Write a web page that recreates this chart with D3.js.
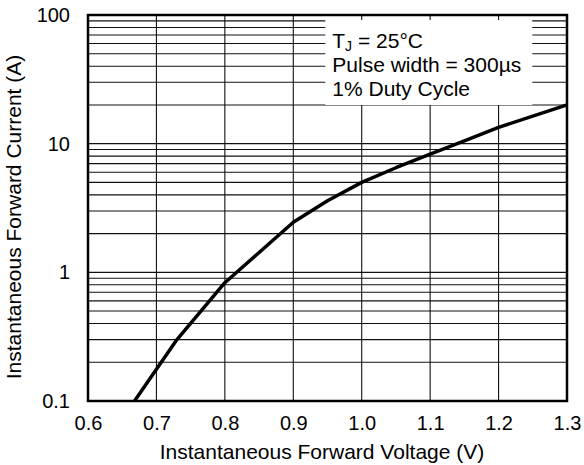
<!DOCTYPE html>
<html>
<head>
<meta charset="utf-8">
<script src="https://cdn.jsdelivr.net/npm/d3@7"></script>
<style>
  body { margin: 0; background: #fff; }
  text { font-family: "Liberation Sans", Arial, sans-serif; fill: #000; }
</style>
</head>
<body>
<div id="chart"></div>
<script>
// Forward voltage (V) vs forward current (A)
var voltage = [0.668, 0.73, 0.80, 0.90, 0.95, 1.00, 1.05, 1.10, 1.15, 1.20, 1.30];
var current = [0.10, 0.30, 0.83, 2.45, 3.6, 5.0, 6.5, 8.3, 10.5, 13.4, 20.0];

var xTicks = [0.6, 0.7, 0.8, 0.9, 1.0, 1.1, 1.2, 1.3];
var xTickLabels = ["0.6", "0.7", "0.8", "0.9", "1.0", "1.1", "1.2", "1.3"];
var yTicks = [0.1, 1, 10, 100];
var yTickLabels = ["0.1", "1", "10", "100"];
var legendLines = ["T_J = 25\u00B0C", "Pulse width = 300\u00B5s", "1% Duty Cycle"];

var margin = { top: 15, right: 17, bottom: 64, left: 88 };
var totalW = 584, totalH = 465;
var width = totalW - margin.left - margin.right;
var height = totalH - margin.top - margin.bottom;
var fs = "20px", fsBig = "21px";

var svg = d3.select("#chart").append("svg")
    .attr("width", totalW)
    .attr("height", totalH)
    .append("g")
    .attr("transform", "translate(" + margin.left + "," + margin.top + ")");

var x = d3.scaleLinear().domain([0.6, 1.3]).range([0, width]);
var y = d3.scaleLog().domain([0.1, 100]).range([height, 0]);

// grid lines: minor decades
var yGrid = [];
[0.1, 1, 10].forEach(function(d){
    for (var i = 1; i < 10; i++) yGrid.push(d * i);
});
yGrid.push(100);

svg.append("g").selectAll("line.h")
    .data(yGrid)
    .enter().append("line")
    .attr("x1", 0).attr("x2", width)
    .attr("y1", function(d){ return y(d); })
    .attr("y2", function(d){ return y(d); })
    .attr("stroke", "#111")
    .attr("stroke-width", 1.1);

svg.append("g").selectAll("line.v")
    .data(xTicks.slice(1, -1))
    .enter().append("line")
    .attr("y1", 0).attr("y2", height)
    .attr("x1", function(d){ return x(d); })
    .attr("x2", function(d){ return x(d); })
    .attr("stroke", "#111")
    .attr("stroke-width", 1.1);

// legend box covers grid
var lg = svg.append("g").attr("transform", "translate(" + (x(0.9) + 32) + ",5)");
lg.append("rect")
    .attr("x", 0).attr("y", 0)
    .attr("width", 207).attr("height", 85)
    .attr("fill", "#fff");

legendLines.forEach(function(s, i){
    var t = lg.append("text")
        .attr("x", 7)
        .attr("y", 28 + i * 24)
        .style("font-size", fsBig);
    if (s.indexOf("T_J") === 0) {
        t.append("tspan").text("T");
        t.append("tspan").attr("dy", 3).style("font-size", "14px").text("J");
        t.append("tspan").attr("dy", -3).text(s.slice(3));
    } else {
        t.text(s);
    }
});

// curve
var pts = voltage.map(function(v, i){ return [v, current[i]]; });
var line = d3.line()
    .x(function(d){ return x(d[0]); })
    .y(function(d){ return y(d[1]); });

svg.append("path")
    .datum(pts)
    .attr("d", line)
    .attr("fill", "none")
    .attr("stroke", "#000")
    .attr("stroke-width", 3.5)
    .attr("stroke-linejoin", "round");

// frame
svg.append("rect")
    .attr("x", 0).attr("y", 0)
    .attr("width", width).attr("height", height)
    .attr("fill", "none")
    .attr("stroke", "#000")
    .attr("stroke-width", 2.5);

// axes
var xAxis = d3.axisBottom(x).tickValues(xTicks).tickSize(0).tickPadding(15)
    .tickFormat(function(d, i){ return xTickLabels[i]; });
var xg = svg.append("g").attr("transform", "translate(0," + height + ")").call(xAxis);
xg.select(".domain").remove();
xg.selectAll("text").style("font-size", fs).attr("fill", "#000");

var yAxis = d3.axisLeft(y).tickValues(yTicks).tickSize(0).tickPadding(18)
    .tickFormat(function(d, i){ return yTickLabels[i]; });
var yg = svg.append("g").call(yAxis);
yg.select(".domain").remove();
yg.selectAll("text").style("font-size", fs).attr("fill", "#000");

svg.append("text")
    .attr("text-anchor", "middle")
    .attr("x", width / 2 - 5.5)
    .attr("y", height + 58)
    .style("font-size", fsBig)
    .text("Instantaneous Forward Voltage (V)");

svg.append("text")
    .attr("text-anchor", "middle")
    .attr("transform", "translate(" + (-67) + "," + (height / 2 + 9) + ") rotate(-90)")
    .style("font-size", fsBig)
    .text("Instantaneous Forward Current (A)");
</script>
</body>
</html>
